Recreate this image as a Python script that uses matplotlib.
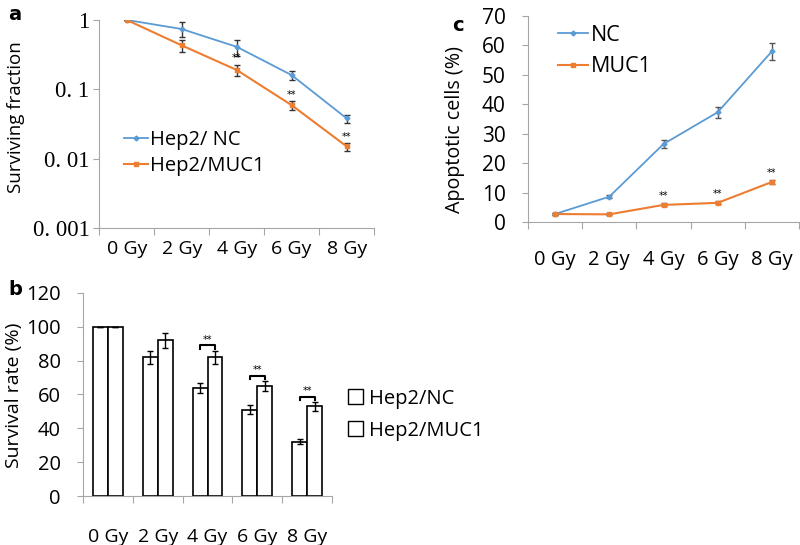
import matplotlib.pyplot as plt
import numpy as np
from matplotlib.patches import Patch

# data
doses = ["0 Gy", "2 Gy", "4 Gy", "6 Gy", "8 Gy"]

# a - surviving fraction (log)
sf_nc = [1.0, 0.74, 0.41, 0.16, 0.038]
sf_nc_err = [0.0, 0.18, 0.11, 0.025, 0.005]
sf_muc1 = [1.0, 0.43, 0.19, 0.059, 0.015]
sf_muc1_err = [0.0, 0.09, 0.035, 0.008, 0.002]

# b - survival rate (%)
sr_nc = [100, 82, 64, 51, 32]
sr_nc_err = [0, 4, 3, 2.5, 1.5]
sr_muc1 = [100, 92, 82, 65, 53]
sr_muc1_err = [0, 4.5, 4, 3, 2.5]

# c - apoptotic cells (%)
ap_nc = [2.7, 8.6, 26.5, 37.3, 58.0]
ap_nc_err = [0.3, 0.5, 1.2, 1.8, 3.0]
ap_muc1 = [2.7, 2.6, 5.8, 6.5, 13.6]
ap_muc1_err = [0.3, 0.3, 0.5, 0.5, 0.8]

BLUE = "#5b9bd5"
ORANGE = "#ed7d31"
GRAY = "#a6a6a6"
SANS = "Open Sans"

fig = plt.figure(figsize=(8, 5.45), dpi=100)
x = np.arange(len(doses))


def style_axes(ax, label_pad, label_size):
    for s in ["top", "right"]:
        ax.spines[s].set_visible(False)
    for s in ["left", "bottom"]:
        ax.spines[s].set_color(GRAY)
    ax.set_xlim(-0.5, len(doses) - 0.5)
    ax.set_xticks(np.arange(-0.5, len(doses)), minor=False)
    ax.set_xticklabels([])
    ax.set_xticks(x, minor=True)
    ax.set_xticklabels(doses, minor=True, fontfamily=SANS, fontsize=label_size)
    ax.tick_params(axis="x", which="major", direction="out", length=5, color=GRAY)
    ax.tick_params(axis="x", which="minor", length=0, pad=label_pad)
    ax.tick_params(axis="y", direction="out", length=4, color=GRAY)


def lines(ax, y1, e1, y2, e2, l1, l2, ecol):
    ax.errorbar(x, y1, yerr=e1, fmt="none", ecolor=ecol, elinewidth=1, capsize=2.5)
    ax.errorbar(x, y2, yerr=e2, fmt="none", ecolor=ecol, elinewidth=1, capsize=2.5)
    ax.plot(x, y1, color=BLUE, lw=1.3, marker="D", ms=2.5, label=l1)
    ax.plot(x, y2, color=ORANGE, lw=1.5, marker="s", ms=3.5, label=l2)


# ---- panel a
ax1 = fig.add_axes([0.124, 0.5817, 0.3437, 0.3817])
ax1.set_yscale("log")
ax1.set_ylim(0.001, 1)
lines(ax1, sf_nc, sf_nc_err, sf_muc1, sf_muc1_err, "Hep2/ NC", "Hep2/MUC1", "#333333")
for i in [2, 3, 4]:
    ax1.text(x[i], sf_muc1[i] + sf_muc1_err[i] * 1.3, "**", ha="center", va="bottom", fontsize=7)
style_axes(ax1, 9, 14)
ax1.yaxis.set_minor_locator(plt.NullLocator())
ax1.set_yticks([1, 0.1, 0.01, 0.001])
ax1.set_yticklabels(["1", "0. 1", "0. 01", "0. 001"], fontfamily="Liberation Serif", fontsize=16.5)
ax1.tick_params(axis="y", pad=3)
ax1.set_ylabel("Surviving fraction", fontfamily=SANS, fontsize=13.5)
ax1.yaxis.set_label_coords(-0.27, 0.534)
ax1.legend(loc="center left", bbox_to_anchor=(0.06, 0.36), frameon=False,
           prop={"family": SANS, "size": 14.5}, handlelength=1.2, handletextpad=0.1,
           labelspacing=0.3, borderaxespad=0)

# ---- panel c
ax3 = fig.add_axes([0.66, 0.5927, 0.33875, 0.3779])
lines(ax3, ap_nc, ap_nc_err, ap_muc1, ap_muc1_err, "NC", "MUC1", "#555555")
for i in [2, 3, 4]:
    ax3.text(x[i], ap_muc1[i] + 1.2, "**", ha="center", va="bottom", fontsize=7)
style_axes(ax3, 20, 14.5)
ax3.set_ylim(0, 70)
ax3.set_yticks(range(0, 71, 10))
ax3.tick_params(axis="y", labelsize=15, pad=12)
for t in ax3.get_yticklabels():
    t.set_fontfamily(SANS)
ax3.set_ylabel("Apoptotic cells (%)", fontfamily=SANS, fontsize=14.2)
ax3.yaxis.set_label_coords(-0.232, 0.451)
ax3.legend(loc="upper left", bbox_to_anchor=(0.08, 1.0), frameon=False,
           prop={"family": SANS, "size": 15.5}, handlelength=1.4, handletextpad=0.1,
           labelspacing=0.5, borderaxespad=0)

# ---- panel b
ax2 = fig.add_axes([0.10375, 0.0899, 0.31125, 0.3725])
w = 0.3
ax2.bar(x - w / 2, sr_nc, w, yerr=sr_nc_err, color="white", edgecolor="black", lw=1.2,
        error_kw={"elinewidth": 1, "capsize": 2.5, "ecolor": "black"}, label="Hep2/NC")
ax2.bar(x + w / 2, sr_muc1, w, yerr=sr_muc1_err, color="white", edgecolor="black", lw=1.2,
        error_kw={"elinewidth": 1, "capsize": 2.5, "ecolor": "black"}, label="Hep2/MUC1")
for i in [2, 3, 4]:
    yb = sr_muc1[i] + sr_muc1_err[i] + 3
    ax2.plot([x[i] - w / 2, x[i] - w / 2, x[i] + w / 2, x[i] + w / 2],
             [yb - 2, yb, yb, yb - 2], color="black", lw=1.5)
    ax2.text(x[i], yb + 0.5, "**", ha="center", va="bottom", fontsize=7)
style_axes(ax2, 23, 14)
ax2.set_ylim(0, 120)
ax2.set_yticks(range(0, 121, 20))
ax2.tick_params(axis="y", labelsize=14.5, pad=12)
for t in ax2.get_yticklabels():
    t.set_fontfamily(SANS)
ax2.set_ylabel("Survival rate (%)", fontfamily=SANS, fontsize=14)
ax2.yaxis.set_label_coords(-0.24, 0.4975)
handles = [Patch(facecolor="white", edgecolor="black", lw=1),
           Patch(facecolor="white", edgecolor="black", lw=1)]
ax2.legend(handles, ["Hep2/NC", "Hep2/MUC1"], loc="center left", bbox_to_anchor=(1.03, 0.4),
           frameon=False, prop={"family": SANS, "size": 14.5}, handlelength=0.75,
           handleheight=0.75, handletextpad=0.3, labelspacing=0.6, borderaxespad=0)

# panel letters
fig.text(0.01, 0.99, "a", fontsize=14, fontweight="bold", va="top")
fig.text(0.01, 0.487, "b", fontsize=14, fontweight="bold", va="top")
fig.text(0.565, 0.97, "c", fontsize=14, fontweight="bold", va="top")

fig.savefig("out.png", dpi=100)
